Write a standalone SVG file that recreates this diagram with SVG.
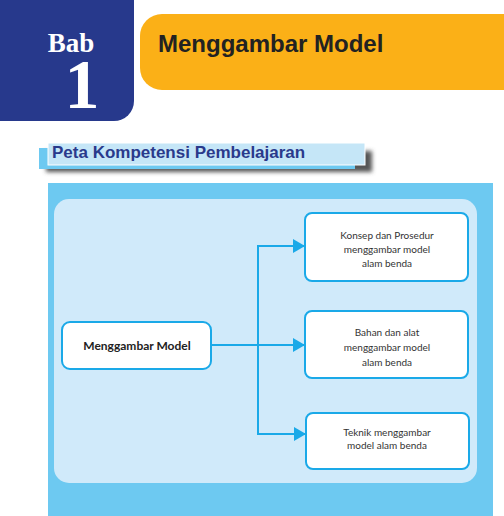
<svg xmlns="http://www.w3.org/2000/svg" width="504" height="516" viewBox="0 0 504 516">
<defs>
<style>
.node{fill:#fff;stroke:#1aa9e8;stroke-width:2}
.lbl{font-family:Lato,"Open Sans","Noto Sans",sans-serif;font-size:10px;fill:#333;text-anchor:middle}
.main{font-size:12px;font-weight:bold;fill:#222}
.conn{stroke:#1aa9e8;stroke-width:2;fill:none}
</style>
<marker id="arr" markerWidth="12" markerHeight="14" refX="12" refY="7" orient="auto" markerUnits="userSpaceOnUse">
<path d="M0,0 L12,7 L0,14 Z" fill="#1aa9e8"/>
</marker>
<filter id="blur" x="-10%" y="-50%" width="120%" height="200%">
<feGaussianBlur stdDeviation="2"/>
</filter>
</defs>
<rect width="504" height="516" fill="#fff"/>
<g id="chapter">
<path d="M0,0 H134 V101 A20,20 0 0 1 114,121 H0 Z" fill="#27398c"/>
<text x="71" y="52" font-family="Liberation Serif,serif" font-weight="bold" font-size="27" fill="#fff" text-anchor="middle">Bab</text>
<text x="82" y="108" font-family="Liberation Serif,serif" font-weight="bold" font-size="70" fill="#fff" text-anchor="middle">1</text>
</g>
<g id="title">
<path d="M162,14 H504 V90 H162 A22,22 0 0 1 140,68 V36 A22,22 0 0 1 162,14 Z" fill="#fbb017"/>
<text x="158" y="52" font-family="Liberation Sans,Arial,sans-serif" font-weight="bold" font-size="24" fill="#222">Menggambar Model</text>
</g>
<g id="header">
<rect x="46" y="151" width="326" height="21" fill="#555" filter="url(#blur)"/>
<rect x="39" y="148" width="316" height="21" fill="#6dc9f1"/>
<rect x="48" y="143" width="317" height="22" fill="#c5e6f7" stroke="#fff" stroke-width="1"/>
<text x="52" y="158" font-family="Liberation Sans,Arial,sans-serif" font-weight="bold" font-size="17" fill="#2a3a8c">Peta Kompetensi Pembelajaran</text>
</g>
<g id="panel">
<rect x="48" y="183" width="445" height="333" fill="#6dc9f1"/>
<rect x="54" y="199" width="423" height="284" rx="15" fill="#d0eafa"/>
</g>
<g id="connectors">
<path class="conn" d="M211,345 H305" marker-end="url(#arr)"/>
<path class="conn" d="M258,246 V434"/>
<path class="conn" d="M257,246 H305" marker-end="url(#arr)"/>
<path class="conn" d="M257,434 H306" marker-end="url(#arr)"/>
</g>
<g id="main">
<rect class="node" x="62" y="322" width="149" height="47" rx="8"/>
<text class="lbl main" x="137" y="349.5">Menggambar Model</text>
</g>
<g id="box1">
<rect class="node" x="305" y="213" width="163" height="68" rx="7"/>
<text class="lbl" x="387" y="238.5">Konsep dan Prosedur</text>
<text class="lbl" x="387" y="252.5">menggambar model</text>
<text class="lbl" x="387" y="266.5">alam benda</text>
</g>
<g id="box2">
<rect class="node" x="305" y="311" width="163" height="67" rx="7"/>
<text class="lbl" x="387" y="335.5">Bahan dan alat</text>
<text class="lbl" x="387" y="350.5">menggambar model</text>
<text class="lbl" x="387" y="365.5">alam benda</text>
</g>
<g id="box3">
<rect class="node" x="306" y="413" width="163" height="56" rx="7"/>
<text class="lbl" x="387" y="435.5">Teknik menggambar</text>
<text class="lbl" x="387" y="448.5">model alam benda</text>
</g>
</svg>
